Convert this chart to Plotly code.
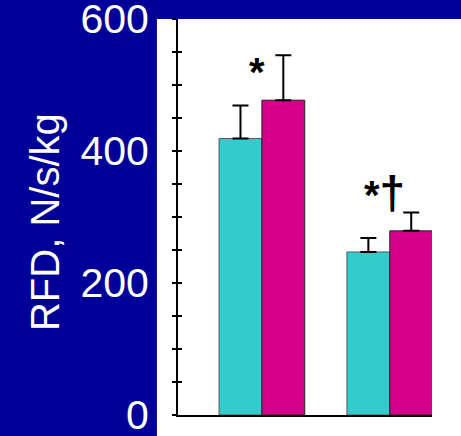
import plotly.graph_objects as go

categories = [0, 1]
cyan_vals = [419, 247]
cyan_err = [50, 21]
mag_vals = [477, 279]
mag_err = [68, 28]
y_ticks = list(range(0, 601, 50))
y_labels = [str(v) if v % 200 == 0 else "" for v in y_ticks]
sig_text = ["<b>*</b>", "<b>*</b><b style='font-size:46px'>†</b>"]
sig_x = [-0.04, 0.96]
sig_y = [519, 337]

NAVY = "#000099"
CYAN = "#33CCCC"
MAG = "#D4008C"
FONT = "Liberation Sans, Arial, sans-serif"

fig = go.Figure()
fig.add_trace(go.Bar(
    x=categories, y=cyan_vals, marker=dict(color=CYAN, line=dict(color="#555555", width=1)),
    error_y=dict(type="data", symmetric=False, array=cyan_err, arrayminus=[0, 0],
                 color="black", thickness=2, width=8),
    showlegend=False,
))
fig.add_trace(go.Bar(
    x=categories, y=mag_vals, marker=dict(color=MAG, line=dict(color="#222222", width=1)),
    error_y=dict(type="data", symmetric=False, array=mag_err, arrayminus=[0, 0],
                 color="black", thickness=2, width=8),
    showlegend=False,
))
# overlay axis for inward ticks (crossing tick look)
fig.add_trace(go.Scatter(x=[None], y=[None], yaxis="y2", showlegend=False))

for t, xx, yy in zip(sig_text, sig_x, sig_y):
    fig.add_annotation(x=xx, y=yy, text=t, showarrow=False, xref="x", yref="y",
                       font=dict(family=FONT, size=40, color="black"),
                       xanchor="center", yanchor="middle")

fig.add_annotation(x=-0.524, y=0.487, xref="paper", yref="paper", text="RFD, N/s/kg",
                   textangle=-90, showarrow=False, xanchor="center", yanchor="middle",
                   font=dict(family=FONT, size=40, color="white"))

# white panel behind plot
fig.add_shape(type="rect", xref="paper", yref="paper", x0=-0.083, x1=1.12, y0=-0.053, y1=1.0,
              fillcolor="white", line=dict(width=0), layer="below")

fig.update_layout(
    width=461, height=436,
    margin=dict(l=178, r=29, t=19, b=21, autoexpand=False),
    paper_bgcolor=NAVY, plot_bgcolor="white",
    barmode="group", bargap=0.33, bargroupgap=0,
    font=dict(family=FONT),
    xaxis=dict(range=[-0.656, 1.33], showticklabels=False, ticks="", showgrid=False,
               zeroline=False, showline=True, linecolor="black", linewidth=2, automargin=False),
    yaxis=dict(range=[0, 600], tickvals=y_ticks, ticktext=y_labels, ticks="outside",
               ticklen=4, tickwidth=2, tickcolor="black", showgrid=False, zeroline=False,
               showline=True, linecolor="black", linewidth=2, ticklabeloverflow="allow",
               automargin=False,
               tickfont=dict(family=FONT, size=41, color="white"), ticklabelstandoff=15),
    yaxis2=dict(range=[0, 600], overlaying="y", side="left", tickvals=y_ticks,
                showticklabels=False, ticks="inside", ticklen=4, tickwidth=2, automargin=False,
                tickcolor="black", showgrid=False, zeroline=False, showline=False),
)

fig.write_html("out.html")
